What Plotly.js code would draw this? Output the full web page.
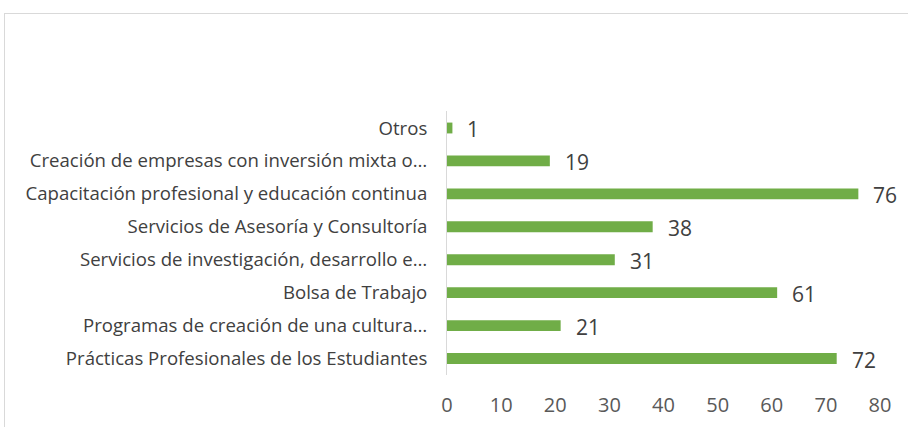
<!DOCTYPE html>
<html>
<head>
<meta charset="utf-8">
<script src="https://cdn.plot.ly/plotly-3.0.1.min.js"></script>
<style>
html,body{margin:0;padding:0;background:#fff;overflow:hidden;}
#wrap{position:relative;width:908px;height:427px;}
#frame{position:absolute;left:4px;top:13px;width:920px;height:430px;border:1px solid #d9d9d9;box-sizing:border-box;pointer-events:none;}
#chart{position:absolute;left:0;top:0;width:908px;height:427px;}
</style>
</head>
<body>
<div id="wrap">
<div id="chart"></div>
<div id="frame"></div>
</div>
<script>
const categories = [
  "Otros",
  "Creación de empresas con inversión mixta o…",
  "Capacitación profesional y educación continua",
  "Servicios de Asesoría y Consultoría",
  "Servicios de investigación, desarrollo e…",
  "Bolsa de Trabajo",
  "Programas de creación de una cultura…",
  "Prácticas Profesionales de los Estudiantes"
];
const values = [1, 19, 76, 38, 31, 61, 21, 72];
const xTicks = [0, 10, 20, 30, 40, 50, 60, 70, 80];

const trace = {
  type: 'bar',
  orientation: 'h',
  y: categories,
  x: values,
  width: 0.33,
  marker: {color: '#70AD47'},
  hoverinfo: 'x+y'
};

const annotations = values.map((v, i) => ({
  x: v, y: categories[i], xref: 'x', yref: 'y',
  text: String(v), showarrow: false, xanchor: 'left', xshift: 13, yshift: -1,
  font: {family: 'Open Sans, sans-serif', size: 21, color: '#404040'}
}));

const layout = {
  width: 908, height: 427,
  margin: {l: 447, r: 28, t: 111, b: 52},
  paper_bgcolor: '#ffffff', plot_bgcolor: '#ffffff',
  showlegend: false,
  font: {family: 'Open Sans, sans-serif', color: '#404040'},
  xaxis: {
    range: [0, 80], tickvals: xTicks, ticktext: xTicks.map(String),
    showgrid: false, zeroline: false, showline: false,
    ticks: 'outside', ticklen: 12, tickcolor: 'rgba(0,0,0,0)',
    tickfont: {size: 20, color: '#595959'}, fixedrange: true
  },
  yaxis: {
    autorange: 'reversed', showgrid: false, zeroline: false,
    showline: true, linecolor: '#d9d9d9', linewidth: 1,
    ticks: 'outside', ticklen: 15, tickcolor: 'rgba(0,0,0,0)',
    tickfont: {size: 18.6, color: '#404040'}, fixedrange: true
  },
  annotations: annotations
};

Plotly.newPlot('chart', [trace], layout, {displayModeBar: false, staticPlot: true});
</script>
</body>
</html>
